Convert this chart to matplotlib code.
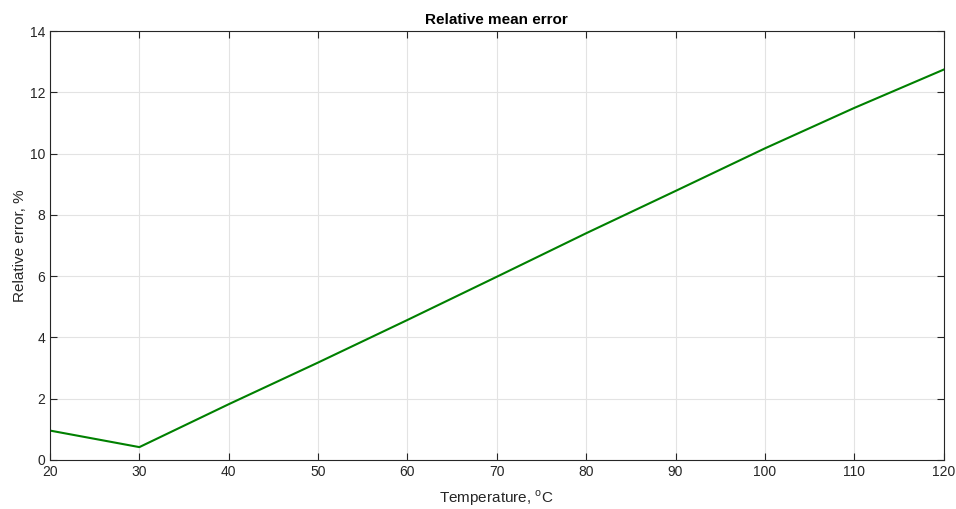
import matplotlib
matplotlib.use("Agg")
import matplotlib.pyplot as plt

# ====== Data ======
temperature = [20, 30, 40, 50, 60, 70, 80, 90, 100, 110, 120]
rel_error = [0.96, 0.42, 1.82, 3.18, 4.57, 5.98, 7.40, 8.78, 10.17, 11.49, 12.74]
x_ticks = list(range(20, 121, 10))
y_ticks = list(range(0, 15, 2))

plt.rcParams['font.family'] = ['Liberation Sans', 'DejaVu Sans']
plt.rcParams['mathtext.fontset'] = 'custom'
plt.rcParams['mathtext.rm'] = 'Liberation Sans'

axis_col = '#262626'

fig = plt.figure(figsize=(9.56, 5.09), dpi=100)
ax = fig.add_axes([0.0523, 0.0963, 0.9347, 0.8427])

ax.plot(temperature, rel_error, color='#008000', linewidth=1.5)

ax.set_xlim(20, 120)
ax.set_ylim(0, 14)
ax.set_xticks(x_ticks)
ax.set_yticks(y_ticks)
ax.grid(True, color='#e3e3e3', linewidth=0.8)
ax.set_axisbelow(True)

ax.tick_params(direction='in', top=True, right=True, length=5,
               labelsize=10, colors=axis_col, width=0.8)
for s in ax.spines.values():
    s.set_color(axis_col)
    s.set_linewidth(0.8)

ax.set_title('Relative mean error', fontsize=11, fontweight='bold', pad=5)
ax.set_xlabel(r'Temperature, $^{\rm o}$C', fontsize=11, color=axis_col, labelpad=7)
ax.set_ylabel('Relative error, %', fontsize=11, color=axis_col, labelpad=2)

fig.savefig('out.png', dpi=100)
